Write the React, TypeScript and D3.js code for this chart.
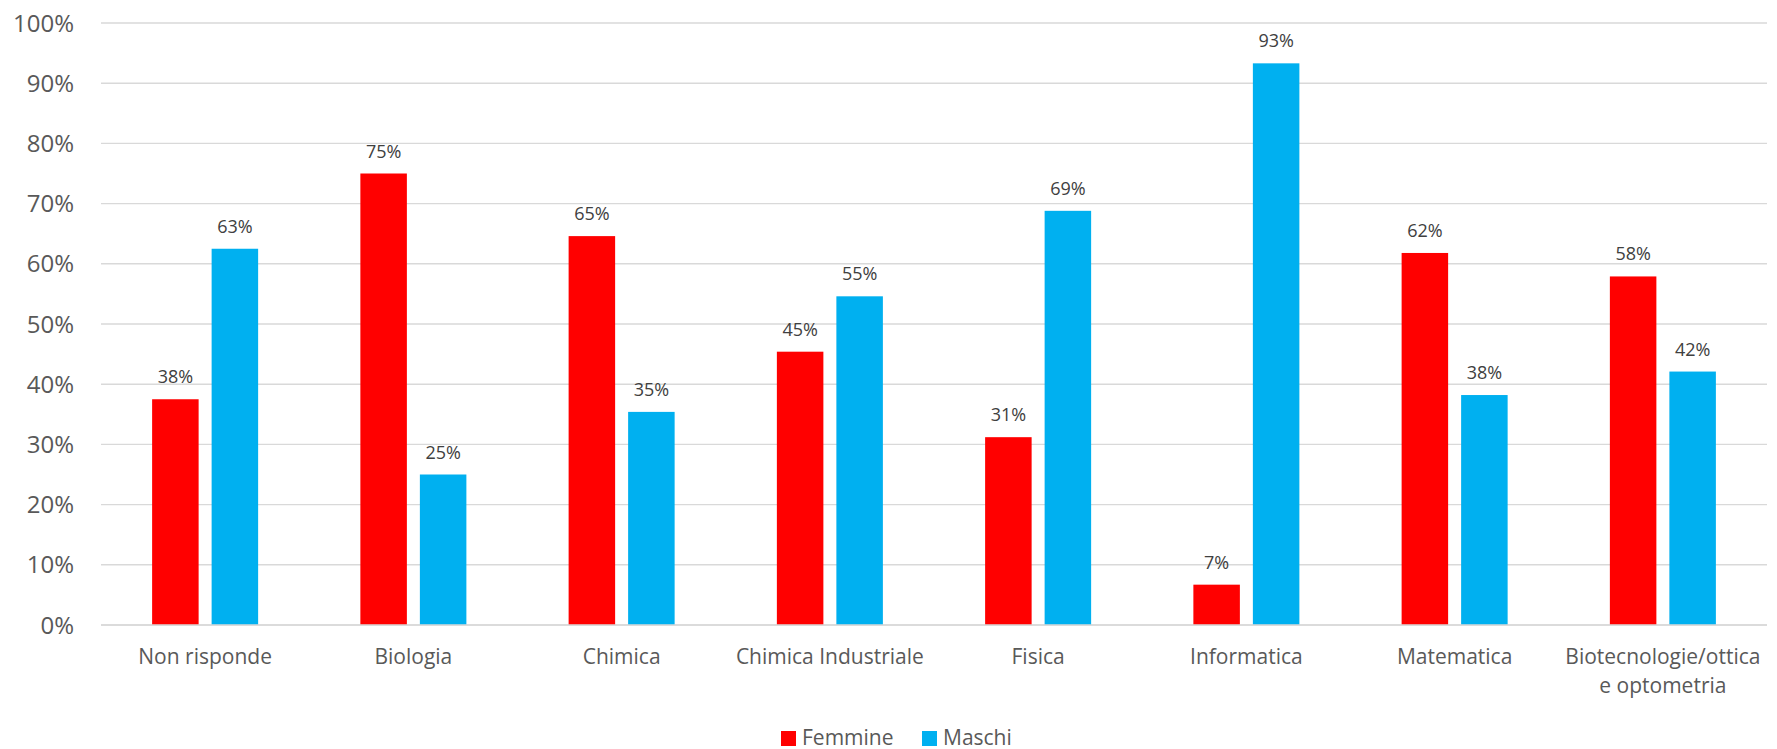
import React from "react";
import * as d3 from "d3";

const categories = [
  "Non risponde",
  "Biologia",
  "Chimica",
  "Chimica Industriale",
  "Fisica",
  "Informatica",
  "Matematica",
  "Biotecnologie/ottica e optometria",
];
const categoryLines = [
  ["Non risponde"],
  ["Biologia"],
  ["Chimica"],
  ["Chimica Industriale"],
  ["Fisica"],
  ["Informatica"],
  ["Matematica"],
  ["Biotecnologie/ottica", "e optometria"],
];
const seriesNames = ["Femmine", "Maschi"];
const femmine = [0.375, 0.75, 0.646, 0.454, 0.312, 0.067, 0.618, 0.579];
const maschi = [0.625, 0.25, 0.354, 0.546, 0.688, 0.933, 0.382, 0.421];
const yTicks = [0, 0.1, 0.2, 0.3, 0.4, 0.5, 0.6, 0.7, 0.8, 0.9, 1.0];
const colors = ["#FF0000", "#00B0F0"];

const W = 1777;
const H = 749;
const FONT = "'Open Sans', 'Noto Sans', sans-serif";

export default function App() {
  const x0 = d3.scaleBand<string>().domain(categories).range([101, 1767]).paddingInner(0).paddingOuter(0);
  const x1 = d3
    .scaleBand<string>()
    .domain(seriesNames)
    .range([0, x0.bandwidth()])
    .paddingInner(0.2185)
    .paddingOuter(0.859);
  const y = d3.scaleLinear().domain([0, 1]).range([625, 23]);
  const fmt = d3.format(".0%");
  const values = [femmine, maschi];

  return (
    <svg
      width={W}
      height={H}
      style={{ position: "absolute", left: 0, top: 0, background: "#fff" }}
      fontFamily={FONT}
    >
      <rect x={0} y={0} width={W} height={H} fill="#fff" />
      {yTicks.map((t) => (
        <g key={t}>
          <line x1={101} x2={1767} y1={y(t)} y2={y(t)} stroke="#D9D9D9" strokeWidth={1.4} />
          <text x={74} y={y(t)} dy="0.36em" textAnchor="end" fontSize={24} fill="#595959">
            {fmt(t)}
          </text>
        </g>
      ))}
      {categories.map((c, i) => (
        <g key={c}>
          {seriesNames.map((s, k) => {
            const v = values[k][i];
            const bx = (x0(c) as number) + (x1(s) as number);
            const bw = x1.bandwidth();
            return (
              <g key={s}>
                <rect x={bx} y={y(v)} width={bw} height={y(0) - y(v)} fill={colors[k]} />
                <text
                  x={bx + bw / 2}
                  y={y(v) - 16}
                  textAnchor="middle"
                  fontSize={18}
                  fill="#404040"
                >
                  {fmt(v)}
                </text>
              </g>
            );
          })}
          <text
            x={(x0(c) as number) + x0.bandwidth() / 2}
            y={664}
            textAnchor="middle"
            fontSize={21}
            fill="#595959"
          >
            {categoryLines[i].map((ln, j) => (
              <tspan key={j} x={(x0(c) as number) + x0.bandwidth() / 2} dy={j === 0 ? 0 : 29}>
                {ln}
              </tspan>
            ))}
          </text>
        </g>
      ))}
      <line x1={101} x2={1767} y1={y(0)} y2={y(0)} stroke="#D9D9D9" strokeWidth={1.6} />
      {seriesNames.map((s, k) => {
        const lx = [781, 922][k];
        return (
          <g key={s}>
            <rect x={lx} y={731} width={15} height={15} fill={colors[k]} />
            <text x={lx + 21} y={745} fontSize={21} fill="#595959">
              {s}
            </text>
          </g>
        );
      })}
    </svg>
  );
}
